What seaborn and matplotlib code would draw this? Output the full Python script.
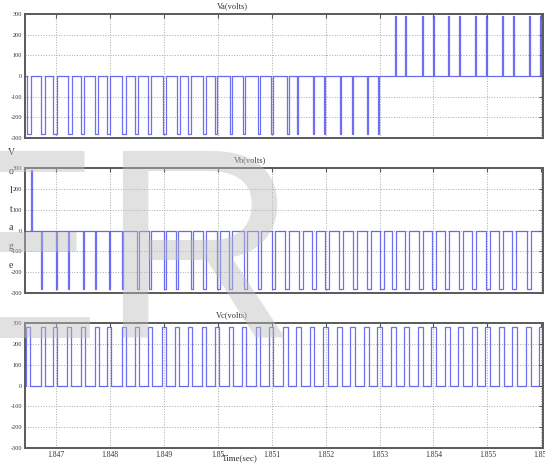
import matplotlib
matplotlib.use("Agg")
import matplotlib.pyplot as plt
import pandas as pd
import seaborn as sns

# pulse times are in microseconds after T0 seconds
T0 = 1.846
T_END_US = 10030
T_START_US = 420

# Va: negative pulses (first half) then narrow positive pulses
va_neg_start_us = [462, 722, 944, 1223, 1464, 1724, 1946, 2224, 2466, 2707, 2985, 3245, 3449, 3727,
                   3950, 4228, 4469, 4748, 4989, 5286, 5471, 5768, 5972, 6269, 6492, 6770, 6974]
va_neg_width_us = [74, 74, 74, 74, 65, 65, 65, 74, 56, 65, 56, 56, 56, 56,
                   37, 46, 37, 37, 28, 28, 19, 19, 19, 19, 19, 15, 15]
va_pos_start_us = [7289, 7475, 7790, 7994, 8273, 8477, 8774, 8978, 9275, 9479, 9776, 9980]
va_pos_width_us = [15, 15, 15, 15, 15, 15, 15, 15, 15, 15, 15, 15]

# Vb: one start-up spike, then negative pulses getting wider
vb_pos_start_us = [536]
vb_pos_width_us = [15]
vb_neg_start_us = [722, 1000, 1223, 1501, 1724, 1983, 2224, 2503, 2725, 3004, 3226, 3505, 3727,
                   3987, 4210, 4488, 4748, 5007, 5249, 5508, 5750, 5991, 6250, 6510, 6770, 7011,
                   7234, 7475, 7735, 7976, 8217, 8477, 8718, 8978, 9219, 9460, 9738]
vb_neg_width_us = [19, 19, 19, 19, 28, 28, 28, 37, 37, 37, 37, 37, 56,
                   56, 56, 60, 60, 60, 65, 65, 65, 65, 65, 65, 65, 65,
                   65, 65, 65, 65, 65, 65, 65, 65, 65, 65, 65]

# Vc: positive pulses
vc_pos_start_us = [443, 722, 944, 1204, 1464, 1724, 1946, 2224, 2466, 2707, 2967, 3208, 3449,
                   3709, 3950, 4210, 4451, 4711, 4952, 5212, 5453, 5712, 5954, 6213, 6455, 6714,
                   6956, 7215, 7456, 7716, 7957, 8217, 8458, 8718, 8959, 9219, 9460, 9720, 9961]
vc_pos_width_us = [83] * len(vc_pos_start_us)

PULSE_V = 280
SPIKE_V = 290

x_ticks = [1.847, 1.848, 1.849, 1.850, 1.851, 1.852, 1.853, 1.854, 1.855, 1.856]
x_tick_labels = ["1.847", "1.848", "1.849", "1.85", "1.851", "1.852", "1.853", "1.854", "1.855", "1.856"]
y_ticks = [-300, -200, -100, 0, 100, 200, 300]
titles = ["Va(volts)", "Vb(volts)", "Vc(volts)"]


def square_wave(pulses):
    # pulses: list of (start_us, width_us, level)
    t = [T_START_US]
    v = [0]
    for s, w, a in sorted(pulses):
        t += [s, s, s + w, s + w]
        v += [0, a, a, 0]
    t.append(T_END_US)
    v.append(0)
    return pd.DataFrame({"t": [T0 + x * 1e-6 for x in t], "v": v})


va = square_wave(list(zip(va_neg_start_us, va_neg_width_us, [-PULSE_V] * 27))
                 + list(zip(va_pos_start_us, va_pos_width_us, [SPIKE_V] * 12)))
vb = square_wave(list(zip(vb_pos_start_us, vb_pos_width_us, [SPIKE_V]))
                 + list(zip(vb_neg_start_us, vb_neg_width_us, [-PULSE_V] * len(vb_neg_start_us))))
vc = square_wave(list(zip(vc_pos_start_us, vc_pos_width_us, [PULSE_V] * len(vc_pos_start_us))))

sns.set_style("white")
W, H = 545, 466
fig = plt.figure(figsize=(W / 100, H / 100), dpi=100)

# panel boxes in pixels: (top, bottom)
boxes = [(14, 138), (168, 293), (323, 448)]
title_x = [232, 250, 232]
left, right = 25, 543

for i, (df, (top, bot)) in enumerate(zip([va, vb, vc], boxes)):
    ax = fig.add_axes([left / W, 1 - bot / H, (right - left) / W, (bot - top) / H])
    sns.lineplot(data=df, x="t", y="v", estimator=None, sort=False, ax=ax,
                 color="#4b4bef", lw=0.9, alpha=0.8)
    ax.set_xlim(T0 + T_START_US * 1e-6 + 0.00001, T0 + 10.03e-3)
    ax.set_ylim(-300, 300)
    ax.set_xticks(x_ticks)
    ax.set_yticks(y_ticks)
    ax.set_yticklabels([str(y) for y in y_ticks], fontsize=4.5, family="Liberation Serif", color="#333333")
    if i == 2:
        ax.set_xticklabels(x_tick_labels, fontsize=5.5, family="Liberation Serif", color="#333333")
    else:
        ax.set_xticklabels([])
    ax.set_xlabel("")
    ax.set_ylabel("")
    ax.grid(True, linestyle=":", color="#a8a8a8", lw=0.7)
    ax.tick_params(direction="in", top=True, right=True, length=3, width=0.8,
                   color="#555555", pad=2)
    for sp in ax.spines.values():
        sp.set_color("#5a5a5a")
        sp.set_linewidth(1.4)
    fig.text(title_x[i] / W, 1 - (top - 8) / H, titles[i], ha="center", va="center",
             fontsize=6, family="Liberation Serif", color="#333333")

fig.text(240 / W, 1 - 458 / H, "Time(sec)", ha="center", va="center",
         fontsize=6.5, family="Liberation Serif", color="#333333")
fig.text(11 / W, 1 - 209 / H, "V\no\nl\nt\na\ng\ne", ha="center", va="center",
         fontsize=7, family="Liberation Serif", color="#333333", linespacing=2.4)

# faint journal watermark
fig.text(-80 / W, 1 - 338 / H, "ER", ha="left", va="baseline", fontsize=196,
         family="Liberation Sans", color="#bdbdbd", alpha=0.45, zorder=10)

fig.savefig("out.png", dpi=100)
